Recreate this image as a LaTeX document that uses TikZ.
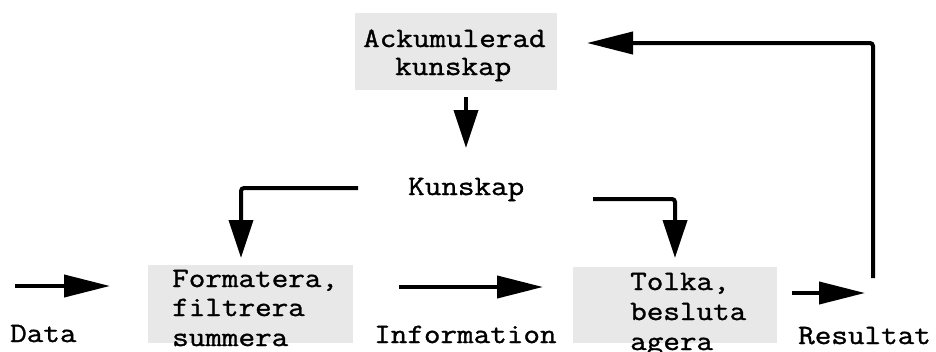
\documentclass[tikz,border=0pt]{standalone}
\usepackage{fontspec}
\newfontfamily\typew{Latin Modern Mono}[FakeStretch=1.15,FakeBold=1.2]
\usetikzlibrary{arrows.meta}
\begin{document}
\begin{tikzpicture}[x=1pt,y=-1pt,
  txt/.style={font=\typew\fontsize{28}{30}\selectfont, inner sep=0pt, anchor=base west},
  panel/.style={fill=gray!18, draw=none, inner sep=0pt, anchor=north west},
  flow/.style={line width=4pt, -{Triangle[length=46pt,width=22pt]}},
  drop/.style={line width=4pt, rounded corners=3pt, -{Triangle[length=38pt,width=24pt]}},
  link/.style={line width=4pt, rounded corners=3pt, -{Triangle[length=46pt,width=22pt]}}]
\useasboundingbox (0,0) rectangle (936,351);

% shaded panels
\node[panel, minimum width=202pt, minimum height=77pt] (akk) at (355,13) {};
\node[panel, minimum width=205pt, minimum height=78pt] (form) at (148,265) {};
\node[panel, minimum width=204pt, minimum height=76pt] (tolk) at (573,267) {};

% panel texts
\node[txt] (akk1) at (363,47) {Ackumulerad};
\node[txt] (akk2) at (395,75) {kunskap};
\node[txt] (form1) at (172,287) {Formatera,};
\node[txt] (form2) at (172,316) {filtrera};
\node[txt] (form3) at (172,346) {summera};
\node[txt] (tolk1) at (630,290) {Tolka,};
\node[txt] (tolk2) at (630,320) {besluta};
\node[txt] (tolk3) at (630,350) {agera};

% free labels
\node[txt] (kunskap) at (408,195) {Kunskap};
\node[txt] (data) at (10,342) {Data};
\node[txt] (info) at (374,343) {Information};
\node[txt] (res) at (798,344) {Resultat};

% connector end points
\coordinate (dataA) at (15,286);
\coordinate (dataB) at (110,286);
\coordinate (infoA) at (399,287);
\coordinate (infoB) at (543,287);
\coordinate (resA) at (792,293);
\coordinate (resB) at (865,293);
\coordinate (akkOut) at (466,97);
\coordinate (kIn) at (466,148);
\coordinate (kLeft) at (358,188);
\coordinate (formIn) at (241,258);
\coordinate (kRight) at (593,199);
\coordinate (tolkIn) at (675,258);
\coordinate (backA) at (873,278);
\coordinate (backB) at (587,43);

% connectors
\draw[flow] (dataA) -- (dataB);
\draw[flow] (infoA) -- (infoB);
\draw[flow] (resA) -- (resB);
\draw[drop] (akkOut) -- (kIn);
\draw[drop] (kLeft) -| (formIn);
\draw[drop] (kRight) -| (tolkIn);
\draw[link] (backA) |- (backB);
\end{tikzpicture}
\end{document}
